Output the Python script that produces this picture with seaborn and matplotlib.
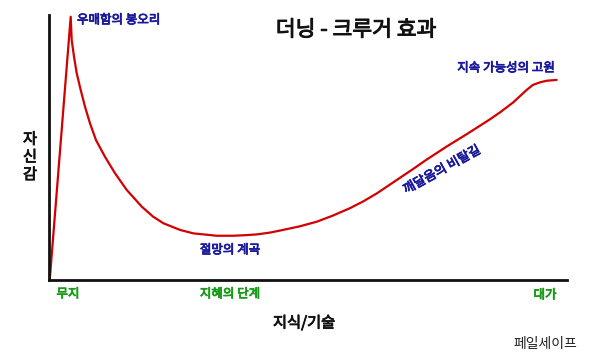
import matplotlib
matplotlib.use("Agg")
import matplotlib.pyplot as plt
import matplotlib.patheffects as pe
import seaborn as sns
import pandas as pd

sns.set_theme(style="white")
plt.rcParams['font.family'] = ['Noto Sans CJK KR', 'DejaVu Sans']

# ---- data: knowledge (0-100) vs confidence (0-100) ----
knowledge = [0.14, 4.19, 4.38, 4.83, 5.35, 6.12, 6.95, 7.92, 9.07, 10.81, 12.74,
             15.0, 17.9, 20.1, 22.1, 25.3, 27.86, 32.37, 35.5, 37.8, 40.1,
             42.7, 45.2, 48.5, 51.7, 54.8, 58.1, 60.6, 63.3, 67.1, 70.3,
             72.8, 76.8, 80.7, 85.1, 87.1, 89.6, 92.2, 93.4, 94.8, 96.1, 98.0]
confidence = [0.0, 99.36, 90.57, 84.26, 78.0, 71.7, 65.4, 59.1, 52.8, 46.5, 40.3,
              34.0, 27.7, 23.9, 21.4, 18.9, 17.6, 16.7, 16.7, 16.9, 17.2,
              17.9, 18.9, 20.3, 22.0, 24.3, 27.1, 29.6, 32.7, 37.7, 41.9,
              45.3, 50.4, 55.1, 60.6, 63.3, 67.0, 71.7, 73.6, 74.6, 75.2, 75.5]

title = "더닝 - 크루거 효과"
x_label = "지식/기술"
y_label = "자\n신\n감"
curve_labels = ["우매함의 봉오리", "절망의 계곡", "깨달음의 비탈길", "지속 가능성의 고원"]
stage_labels = ["무지", "지혜의 단계", "대가"]
credit = "페일세이프"

df = pd.DataFrame({"knowledge": knowledge, "confidence": confidence})

W, H = 592, 364
fig = plt.figure(figsize=(W / 100, H / 100), dpi=100)
ax = fig.add_axes([49 / W, 1 - 280 / H, 518 / W, 265 / H])
sns.lineplot(data=df, x="knowledge", y="confidence", ax=ax,
             color="#d20000", linewidth=1.6, estimator=None)
for ln in ax.get_lines():
    ln.set_solid_joinstyle("round")
    ln.set_solid_capstyle("round")
ax.set_xlim(0, 100)
ax.set_ylim(0, 100)
ax.set_xticks([])
ax.set_yticks([])
ax.set_xlabel("")
ax.set_ylabel("")
for s in ["top", "right"]:
    ax.spines[s].set_visible(False)
for s in ["left", "bottom"]:
    ax.spines[s].set_color("#111111")
    ax.spines[s].set_linewidth(2)


def bold(c, w):
    return [pe.withStroke(linewidth=w, foreground=c)]


def ftext(x, y, s, **kw):
    fig.text(x / W, 1 - y / H, s, **kw)


blue = "#1a1a9c"
green = "#189a18"
dark = "#111111"

ftext(356, 30, title, ha="center", va="center", fontsize=15.5, color=dark,
      path_effects=bold(dark, 0.7))
ftext(77, 20, curve_labels[0], ha="left", va="center", fontsize=9, color=blue,
      path_effects=bold(blue, 0.6))
ftext(230, 250, curve_labels[1], ha="center", va="center", fontsize=9, color=blue,
      path_effects=bold(blue, 0.6))
ftext(442, 170, curve_labels[2], ha="center", va="center", fontsize=9.3, color=blue,
      rotation=29, rotation_mode="anchor", path_effects=bold(blue, 0.6))
ftext(506, 68, curve_labels[3], ha="center", va="center", fontsize=9, color=blue,
      path_effects=bold(blue, 0.6))

ftext(68, 294, stage_labels[0], ha="center", va="center", fontsize=9, color=green,
      path_effects=bold(green, 0.6))
ftext(230, 294, stage_labels[1], ha="center", va="center", fontsize=9, color=green,
      path_effects=bold(green, 0.6))
ftext(545, 295, stage_labels[2], ha="center", va="center", fontsize=9, color=green,
      path_effects=bold(green, 0.6))

ftext(304, 323, x_label, ha="center", va="center", fontsize=11, color=dark,
      path_effects=bold(dark, 0.6))
ftext(30, 157, y_label, ha="center", va="center", fontsize=11, color=dark,
      linespacing=1.05, path_effects=bold(dark, 0.6))
ftext(545, 344, credit, ha="center", va="center", fontsize=10, color="#222222")

fig.savefig("out.png", dpi=100)
